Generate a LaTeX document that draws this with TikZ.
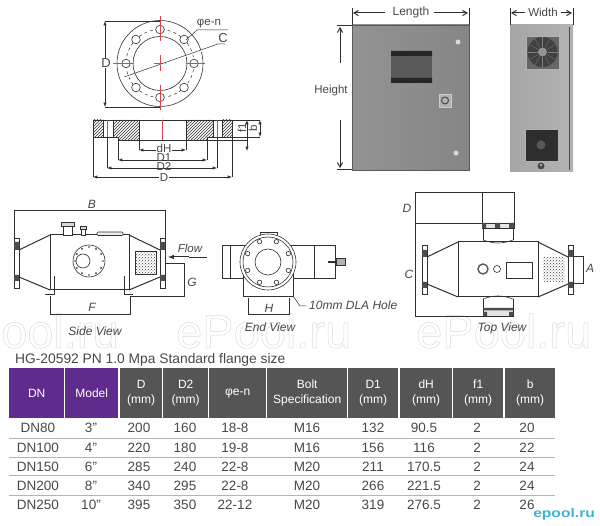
\documentclass[tikz,border=0pt]{standalone}
\usepackage{fontspec}
\setmainfont{Liberation Sans}[Ligatures=ResetAll]
\usetikzlibrary{arrows,calc,patterns,positioning}
\definecolor{inkline}{HTML}{303030}
\definecolor{headgray}{HTML}{555555}
\definecolor{headpurple}{HTML}{5F2B8C}
\definecolor{bodytext}{HTML}{484848}
\definecolor{rulegray}{HTML}{B4B4B4}
\definecolor{centerred}{HTML}{D8474F}
\newcommand{\outlined}[1]{\special{pdf:code q 1 Tr 0.5 w 0.86 G}#1\special{pdf:code Q}}
\begin{document}
\begin{tikzpicture}[x=1pt,y=-1pt,
    basic/.style={draw=inkline,line width=0.6pt},
    heavy/.style={draw=inkline,line width=1pt},
    dim/.style={draw=inkline,line width=0.5pt},
    dimarrow/.style={dim,<->,>=latex},
    label/.style={font=\fontsize{11.5}{13}\selectfont,text=bodytext,inner sep=1pt},
    viewlabel/.style={font=\fontsize{12}{14}\itshape\selectfont,text=bodytext,inner sep=1pt},
    letter/.style={font=\fontsize{12}{14}\itshape\selectfont,text=bodytext,inner sep=1pt},
    redline/.style={draw=centerred,line width=0.7pt},
    hatched/.style={pattern=north east lines,pattern color=inkline},
    mesh/.style={fill=gray!70,pattern=crosshatch dots,pattern color=black!75},
    watermark/.style={font=\fontsize{47}{49}\selectfont,inner sep=0pt},
    head/.style={fill=headgray,text=white,align=center,inner sep=0pt,minimum height=50pt,
        font=\fontsize{12}{15}\selectfont},
    purplehead/.style={head,fill=headpurple},
    cell/.style={text=bodytext,inner sep=0pt,font=\fontsize{13.5}{15}\selectfont},
]
\useasboundingbox (0,0) rectangle (600,526);
\fill[white] (0,0) rectangle (600,526);

% watermark
\node[watermark,anchor=west] (mark1) at (1,331) {\outlined{ool.ru}};
\node[watermark,anchor=west] (mark2) at (176,331) {\outlined{ePool.ru}};
\node[watermark,anchor=west] (mark3) at (416,331) {\outlined{ePool.ru}};

% flange, front
\begin{scope}[shift={(160,63.5)}]
    \draw[basic] (0,0) circle (43);
    \draw[basic] (0,0) circle (27);
    \draw[dim,dashed] (0,0) circle (34);
    \foreach \a in {0,45,...,315} {
        \draw[basic,fill=white] (\a:34) circle (4.3);
    }
    \draw[redline] (0,-47) -- (0,-22) (0,-8) -- (0,8) (0,22) -- (0,47);
    \draw[redline] (-47,0) -- (-26,0) (-6,0) -- (6,0) (26,0) -- (45,0);
\end{scope}
\draw[dim] (105,21) -- (160,21) (105,107) -- (160,107);
\draw[dimarrow] (105,21) -- (105,107);
\node[label,font=\fontsize{13}{15}\selectfont,fill=white] (flD) at (106,63) {D};
\node[label] (ephi) at (209,24) {φe-n};
\draw[dim] (228,30) -- (197,30) -- (186,40);
\node[label,font=\fontsize{13}{15}\selectfont] (flC) at (223,38) {C};
\draw[dim,fill=white] (225,44) -- (218,44) -- (124,77);

% flange, section
\draw[basic] (93,120) -- (260,120);
\filldraw[basic,hatched] (93,120) rectangle (103,137);
\filldraw[basic,hatched] (113,120) -- (139,120) -- (139,140) -- (118,140) -- (118,137) -- (113,137) -- cycle;
\filldraw[basic,hatched] (186,120) -- (213,120) -- (213,137) -- (207,137) -- (207,140) -- (186,140) -- cycle;
\filldraw[basic,hatched] (222,120) rectangle (232,137);
\draw[basic] (103,120) -- (103,137) (113,120) -- (113,137) (103,137) -- (113,137) (213,137) -- (222,137);
\draw[basic] (139,140) -- (186,140);
\draw[redline] (107,120) -- (107,137) (162,120) -- (162,140) (217,120) -- (217,137);
\draw[dim] (207,137) -- (260,137) (207,140) -- (248,140);
\draw[dim] (139,140) -- (139,150) (186,140) -- (186,150);
\draw[dim] (118,140) -- (118,160) (207,140) -- (207,160);
\draw[dim] (107,137) -- (107,168) (217,137) -- (217,168);
\draw[dim] (93,137) -- (93,177) (232,137) -- (232,177);
\draw[dimarrow] (139,150) -- (186,150);
\draw[dimarrow] (118,160) -- (207,160);
\draw[dimarrow] (107,168) -- (217,168);
\draw[dimarrow] (93,177) -- (232,177);
\node[label,fill=white,inner sep=0.5pt] (fldH) at (164,148.5) {dH};
\node[label,inner sep=0.5pt] (flD1) at (164,157.5) {D1};
\node[label,inner sep=0.5pt] (flD2) at (164,166.5) {D2};
\node[label,fill=white,inner sep=0.5pt] (flD3) at (164,178) {D};
\node[label,rotate=90] (flf1) at (242,128) {f1};
\node[label,rotate=90] (flb) at (253,128) {b};
\draw[dim,<->,>=latex] (247,120) -- (247,151);
\draw[dimarrow] (260,120) -- (260,137);

% cabinet
\shade[left color=gray!85,right color=gray!95] (352,25) rectangle (469,170);
\draw[draw=gray!70!black] (352,25) rectangle (469,170);
\fill[black!65] (391,51) rectangle (432,83);
\fill[black!85] (391,51) rectangle (432,56) (391,78) rectangle (432,83);
\filldraw[draw=gray!40,fill=gray!60] (439,94) rectangle (451,107);
\draw[black!70,line width=1pt] (445,100.5) circle (3.5);
\fill[gray!30] (458,42) circle (2.5) (456,153) circle (2.5);
\draw[heavy] (352,8) -- (352,25) (469,8) -- (469,25);
\draw[heavy,line width=0.8pt] (337,25) -- (352,25) (337,169) -- (352,169);
\node[label,font=\fontsize{12}{14}\selectfont] (boxlen) at (411,12) {Length};
\draw[heavy,->,>=angle 60] (385,13) -- (353,13);
\draw[heavy,->,>=angle 60] (434,13) -- (468,13);
\node[label] (boxht) at (331,91) {Height};
\draw[heavy,->,>=angle 60] (340,63) -- (340,27);
\draw[heavy,->,>=angle 60] (340,120) -- (340,168);

\shade[left color=gray!70,right color=gray!60] (510,25) rectangle (573,172);
\draw[line width=1pt,draw=black!70] (569,27) -- (569,170);
\filldraw[draw=gray!60,fill=black!60] (526,36) rectangle (559,69);
\fill[black!75] (542.5,52) circle (15);
\foreach \a in {0,30,...,330} {
    \draw[gray,line width=0.3pt] ($(542.5,52)+(\a:5)$) -- ($(542.5,52)+(\a:15)$);
}
\fill[gray!85] (542.5,52) circle (4.5);
\filldraw[draw=gray!60,fill=black!82] (525,129) rectangle (558,161);
\fill[black!65] (541,145) circle (4.5);
\fill[black!70] (541,166) circle (3.5);
\fill[gray!50] (541,165) circle (1.2);
\draw[heavy] (510,8) -- (510,25) (573,8) -- (573,25);
\node[label] (boxwd) at (543,12) {Width};
\draw[heavy,->,>=angle 60] (525,13) -- (511,13);
\draw[heavy,->,>=angle 60] (561,13) -- (572,13);

% side view
\draw[heavy] (50,235) rectangle (129,290);
\draw[heavy] (50,235) -- (19,250) (50,290) -- (19,277);
\draw[heavy] (129,235) -- (160,250) (129,290) -- (160,277);
\foreach \fx in {14,160} {
    \draw[basic] (\fx,238) rectangle ++(5,50);
    \fill[black!70] (\fx,242) rectangle ++(5,8) (\fx,275) rectangle ++(5,6);
}
\draw[basic] (19,250) -- (19,277);
\draw[basic,fill=white] (63,226) rectangle (72,235);
\draw[basic,fill=gray!30] (61,222) rectangle (74,226);
\draw[basic,fill=white] (81,229) rectangle (85,235);
\draw[basic,fill=gray!30] (80,226) rectangle (86,229);
\draw[basic,fill=gray!15,rounded corners=1pt] (97,232) rectangle (123,235.5);
\draw[basic] (89,261) circle (16);
\draw[basic] (83,261) circle (7);
\foreach \a in {0,30,...,330} {
    \fill[inkline] ($(89,261)+(\a:14)$) circle (0.9);
}
\fill[mesh] (135,251) rectangle (156,274);
\draw[dim] (135,251) rectangle (156,274);
\draw[basic,line width=1pt] (54,276) -- (54,295) -- (45,295);
\draw[basic,line width=1pt] (124,276) -- (124,295) -- (133,295);
\draw[dim] (50,296) -- (50,314) -- (130,314) -- (130,296);
\draw[dim] (14,238) -- (14,210) -- (165,210) -- (165,238);
\draw[dim] (165,263) -- (184,263) -- (184,296) -- (130,296);
\draw[dim] (189,257) -- (207,257);
\draw[heavy,<-,>=latex,fill=none] (168,257) -- (189,257);
\node[letter] (sideB) at (92,204) {B};
\node[letter] (sideF) at (92,307) {F};
\node[letter] (sideG) at (192,282) {G};
\node[letter,font=\fontsize{11.5}{13}\itshape\selectfont] (sideflow) at (190,248) {Flow};
\node[viewlabel] (sidename) at (95,331) {Side View};

% end view
\draw[basic] (222,245) rectangle (335,278);
\draw[basic] (230,245) -- (230,278) (314,245) -- (314,278);
\draw[basic,fill=white] (243,270) -- (243,296) -- (293,296) -- (293,270);
\draw[basic,fill=white] (260,236) -- (260,232) -- (277,232) -- (277,236);
\draw[basic,fill=white] (268,262) circle (28);
\draw[basic] (268,262) circle (25);
\draw[basic] (268,262) circle (13);
\foreach \a in {22.5,67.5,...,337.5} {
    \draw[basic] ($(268,262)+(\a:22)$) circle (2.2);
}
\draw[dim,line width=1.2pt] (328,262) -- (336,262);
\draw[basic,fill=gray!60] (336,258) rectangle (345,265);
\draw[dim] (248,298) -- (248,314) -- (289,314) -- (289,298);
\draw[dim] (293,296) -- (300,306) -- (306,306);
\node[letter] (endH) at (269,308) {H};
\node[viewlabel,anchor=west] (endhole) at (308,305) {10mm DLA Hole};
\node[viewlabel] (endname) at (270,327) {End View};

% top view
\draw[heavy] (458,242) rectangle (538,297);
\draw[heavy] (458,242) -- (427,257) (458,297) -- (427,284);
\draw[heavy] (538,242) -- (568,257) (538,297) -- (568,284);
\foreach \fx in {422,568} {
    \draw[basic] (\fx,245) rectangle ++(5,49);
    \fill[black!70] (\fx,250) rectangle ++(5,7) (\fx,282) rectangle ++(5,6);
}
\draw[basic] (427,257) -- (427,284);
\draw[basic] (573,256) -- (583,256) -- (583,283) -- (573,283);
\fill[mesh] (543,258) rectangle (565,282);
\draw[basic] (483,228) -- (483,240) (513,228) -- (513,240);
\draw[basic] (483,240) to[bend right=20] (513,240);
\draw[basic] (483,299) to[bend left=20] (513,299);
\draw[basic] (483,299) -- (483,308) (513,299) -- (513,308);
\draw[basic] (482,192) rectangle (514,223);
\draw[basic,fill=gray!20] (482,223) rectangle (514,228);
\fill[black!70] (482,223) rectangle (486,228) (495,223) rectangle (500,228) (509,223) rectangle (514,228);
\draw[basic,fill=gray!20] (483,308) rectangle (513,316);
\fill[black!70] (483,308) rectangle (513,310.5) (483,312) rectangle (487,316) (509,312) rectangle (513,316);
\draw[basic,line width=1.4pt,draw=gray!70!black] (483,269) circle (5);
\draw[basic] (497,269) circle (3.5);
\draw[basic] (506,262) rectangle (532,278);
\draw[dim] (482,192) -- (415,192) -- (415,316) -- (483,316);
\draw[dim] (415,223) -- (482,223);
\node[letter] (topD) at (407,208) {D};
\node[letter] (topC) at (409,274) {C};
\node[letter] (topA) at (590,268) {A};
\node[viewlabel] (topname) at (502,328) {Top View};

% table
\node[anchor=west,font=\fontsize{13.8}{16}\selectfont,text=bodytext,inner sep=0pt] (tabletitle) at (15,360) {HG-20592 PN 1.0 Mpa Standard flange size};
\foreach \nm/\lx/\rx/\txt/\sty in {dn/9/64/DN/purplehead,model/65/118/Model/purplehead,
    d/120/162/{D\\(mm)}/head,dtwo/163/208/{D2\\(mm)}/head,phi/209/266/φe-n/head,
    bolt/267/347/{Bolt\\Specification}/head,done/348/398/{D1\\(mm)}/head,
    dh/400/452/{dH\\(mm)}/head,fone/453/503/{f1\\(mm)}/head,bb/505/555/{b\\(mm)}/head} {
    \pgfmathsetmacro{\cw}{\rx-\lx}
    \node[\sty,minimum width=\cw pt,anchor=north west] (h\nm) at (\lx,368) {\txt};
}
\foreach \ry in {439,458,476,495} {
    \draw[rulegray,line width=1pt] (9,\ry) -- (555,\ry);
}
\foreach \ry/\ca/\cb/\cc/\cd/\ce/\cf/\cg/\ch/\ci/\cj in {
    428/DN80/3"/200/160/18-8/M16/132/90.5/2/20,
    448/DN100/4"/220/180/19-8/M16/156/116/2/22,
    467/DN150/6"/285/240/22-8/M20/211/170.5/2/24,
    486/DN200/8"/340/295/22-8/M20/266/221.5/2/24,
    505/DN250/10"/395/350/22-12/M20/319/276.5/2/26} {
    \node[cell] (a\ry) at (38,\ry) {\ca};
    \node[cell] (b\ry) at (91,\ry) {\cb};
    \node[cell] (c\ry) at (139,\ry) {\cc};
    \node[cell] (d\ry) at (185,\ry) {\cd};
    \node[cell] (e\ry) at (235,\ry) {\ce};
    \node[cell] (f\ry) at (307,\ry) {\cf};
    \node[cell] (g\ry) at (373,\ry) {\cg};
    \node[cell] (h\ry) at (424,\ry) {\ch};
    \node[cell] (i\ry) at (477,\ry) {\ci};
    \node[cell] (j\ry) at (527,\ry) {\cj};
}
\node[anchor=west,inner sep=0pt,xscale=1.25,text={rgb,255:red,60;green,180;blue,215},font=\fontsize{12.5}{14}\bfseries\selectfont] (logo) at (533,514) {epool.ru};
\end{tikzpicture}
\end{document}
